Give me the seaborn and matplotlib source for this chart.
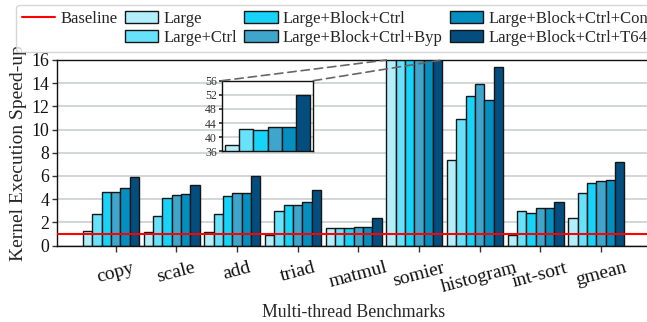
import numpy as np
import pandas as pd
import matplotlib
matplotlib.use("Agg")
import matplotlib.pyplot as plt
from matplotlib.lines import Line2D
from matplotlib.patches import ConnectionPatch
import seaborn as sns

# Benchmarks on the x axis
benchmarks = ["copy", "scale", "add", "triad", "matmul", "somier",
              "histogram", "int-sort", "gmean"]

# Configurations (hue levels)
configs = ["Large", "Large+Ctrl", "Large+Block+Ctrl",
           "Large+Block+Ctrl+Byp", "Large+Block+Ctrl+Con",
           "Large+Block+Ctrl+T64"]

# Kernel execution speed-up per configuration
large            = [1.25, 1.13, 1.13, 0.90, 1.48, 37.8, 7.41, 0.88, 2.37]
large_ctrl       = [2.68, 2.57, 2.68, 2.94, 1.48, 42.4, 10.94, 2.94, 4.57]
large_block_ctrl = [4.58, 4.14, 4.23, 3.47, 1.53, 41.9, 12.86, 2.82, 5.43]
large_bc_byp     = [4.63, 4.32, 4.52, 3.51, 1.62, 42.8, 13.89, 3.25, 5.60]
large_bc_con     = [4.92, 4.46, 4.49, 3.74, 1.57, 42.9, 12.57, 3.25, 5.63]
large_bc_t64     = [5.92, 5.23, 5.98, 4.75, 2.34, 52.0, 15.41, 3.77, 7.24]

series_values = [large, large_ctrl, large_block_ctrl,
                 large_bc_byp, large_bc_con, large_bc_t64]

colors = ["#b3effb", "#68e1fa", "#17d3f8", "#40a5ca", "#058fc0", "#034e7f"]

baseline = 1.0

sns.set_theme(style="whitegrid")
plt.rcParams["font.family"] = ["Liberation Serif", "DejaVu Serif"]
plt.rcParams.update({
    "axes.edgecolor": "#111111",
    "axes.linewidth": 1.0,
    "grid.color": "#cfd3d3",
    "grid.linewidth": 1.3,
    "xtick.color": "#333333",
    "ytick.color": "#333333",
    "xtick.labelcolor": "#111111",
    "ytick.labelcolor": "#111111",
})

rows = []
for cfg, vals in zip(configs, series_values):
    for b, v in zip(benchmarks, vals):
        rows.append({"benchmark": b, "config": cfg, "speedup": v})
df = pd.DataFrame(rows)

fig = plt.figure(figsize=(6.47, 3.22), dpi=100)
ax = fig.add_axes([57 / 647, 1 - 245.5 / 322, 593.3 / 647, 185.5 / 322])

group_width = 0.923
sns.barplot(data=df, x="benchmark", y="speedup", hue="config",
            hue_order=configs, palette=colors, width=group_width, gap=0,
            saturation=1, edgecolor="#151515", linewidth=1.0,
            errorbar=None, ax=ax, zorder=2)
ax.axhline(baseline, color="red", lw=1.5, label="Baseline", zorder=4)

bar_w = group_width / len(configs)
ax.set_xticks(np.arange(len(benchmarks)) + bar_w / 2)
ax.set_xticklabels(benchmarks, rotation=15, fontsize=14)
ax.set_xlim(-0.89, len(benchmarks) - 1 + 0.89)
ax.set_ylim(0, 16)
ax.set_yticks(range(0, 17, 2))
ax.tick_params(axis="x", bottom=True, length=4, width=1, pad=6)
ax.tick_params(axis="y", left=True, length=3.5, width=1, labelsize=12.8, pad=2)
ax.grid(axis="x", visible=False)
ax.set_axisbelow(True)
ax.set_xlabel("Multi-thread Benchmarks", fontsize=12.8, labelpad=6)
ax.set_ylabel("Kernel Execution Speed-up", fontsize=14, labelpad=3)

# Legend: baseline first, an empty slot below it, then the configurations
handles, labels = ax.get_legend_handles_labels()
ax.get_legend().remove()
hmap = dict(zip(labels, handles))
blank = Line2D([], [], alpha=0)
leg_handles = [hmap["Baseline"], blank] + [hmap[c] for c in configs]
leg_labels = ["Baseline", ""] + configs
fig.legend(leg_handles, leg_labels, ncol=4, loc="upper left",
           bbox_to_anchor=(16 / 647, 1 - 5 / 322), borderaxespad=0,
           fontsize=12, frameon=True, fancybox=True, edgecolor="#cccccc",
           handlelength=2.0, handletextpad=0.3, columnspacing=0.45,
           labelspacing=0.2, borderpad=0.35)

# Zoomed inset for somier
somier_idx = benchmarks.index("somier")
somier_vals = [vals[somier_idx] for vals in series_values]
ins = fig.add_axes([221.7 / 647, 1 - 151.3 / 322, 91.6 / 647, 70.6 / 322])
ins.set_facecolor("white")
sns.barplot(x=configs, y=somier_vals, hue=configs, palette=colors,
            width=1.0, gap=0, saturation=1, edgecolor="#151515",
            linewidth=1.0, legend=False, ax=ins, zorder=2)
ins.set_ylim(36, 56)
ins.set_yticks(range(36, 57, 4))
ins.set_xlim(-0.72, len(configs) - 1 + 0.72)
ins.set_xticks([])
ins.set_xlabel("")
ins.set_ylabel("")
ins.grid(axis="x", visible=False)
ins.set_axisbelow(True)
ins.tick_params(axis="y", left=True, length=2.5, labelsize=8.5, pad=1,
                labelcolor="#333333")
for sp in ins.spines.values():
    sp.set_color("#111111")
    sp.set_linewidth(1.0)

# Dashed connectors from the inset to the top of the somier group
top = ax.get_ylim()[1]
for (xa, xb) in [(0, somier_idx - group_width / 2),
                 (1, somier_idx + group_width / 2)]:
    con = ConnectionPatch(xyA=(xa, 1), coordsA=ins.transAxes,
                          xyB=(xb, top), coordsB=ax.transData,
                          linestyle=(0, (5, 3)), color="#666666", lw=1.2,
                          zorder=6)
    fig.add_artist(con)

fig.savefig("out.png", dpi=100)
